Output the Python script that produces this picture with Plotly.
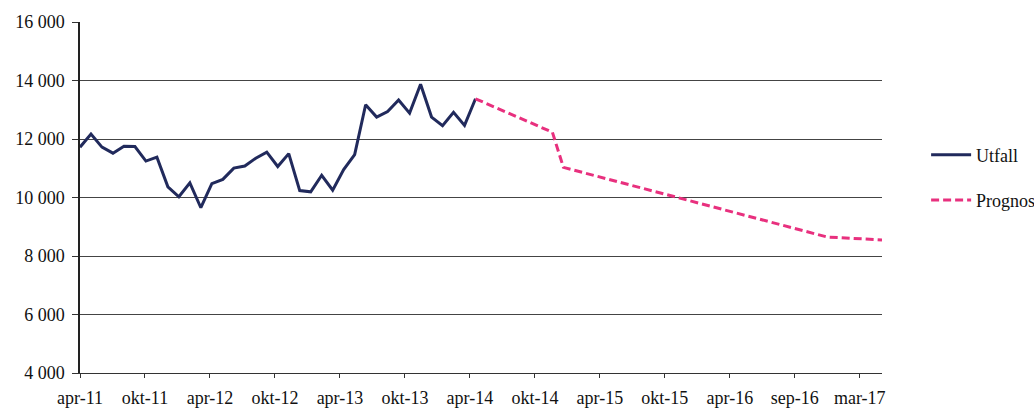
import plotly.graph_objects as go

# Month index 0 = apr-11
tick_labels = ["apr-11", "okt-11", "apr-12", "okt-12", "apr-13", "okt-13", "apr-14",
               "okt-14", "apr-15", "okt-15", "apr-16", "sep-16", "mar-17"]

utfall_x = list(range(0, 37))
utfall = [11720, 12170, 11720, 11515, 11750, 11740, 11245, 11380, 10365, 10025,
          10500, 9650, 10475, 10620, 11005, 11075, 11345, 11550, 11060, 11500,
          10237, 10193, 10760, 10250, 10955, 11465, 13170, 12750, 12940, 13335,
          12885, 13875, 12750, 12455, 12910, 12465, 13375]

prognos_x = list(range(36, 74))
prognos = [13375, 13210, 13050, 12885, 12720, 12560, 12390, 12230, 11030, 10930,
           10830, 10730, 10630, 10530, 10430, 10330, 10230, 10130, 10030, 9930,
           9830, 9730, 9630, 9530, 9430, 9330, 9230, 9130, 9030, 8930,
           8830, 8730, 8650, 8630, 8610, 8590, 8570, 8550]

y_ticks = [4000, 6000, 8000, 10000, 12000, 14000, 16000]

# label positions along the month axis (as drawn in the reference)
tick_pos = [5.915 * k for k in range(len(tick_labels))]

FONT = "Liberation Serif"

fig = go.Figure()
fig.add_trace(go.Scatter(
    x=utfall_x, y=utfall, mode="lines", name="Utfall",
    line=dict(color="#212a5c", width=3), legendgroup="a"))
fig.add_trace(go.Scatter(
    x=prognos_x, y=prognos, mode="lines", name="Prognos",
    line=dict(color="#e8307e", width=3, dash="8px,4px"), legendgroup="b"))

fig.update_layout(
    width=1034, height=408,
    margin=dict(l=80, r=152, t=22, b=35, autoexpand=False),
    paper_bgcolor="white", plot_bgcolor="white",
    separators=", ",
    font=dict(family=FONT, size=18, color="#111111"),
    showlegend=True,
    legend=dict(x=1.055, y=0.557, xanchor="left", yanchor="middle",
                font=dict(family=FONT, size=18, color="#111111"),
                tracegroupgap=19, itemwidth=40, bgcolor="rgba(0,0,0,0)"),
    xaxis=dict(range=[0, 73], tickmode="array", tickvals=tick_pos, ticktext=tick_labels,
               showgrid=False, zeroline=False, showline=True, linecolor="#333333",
               linewidth=1, ticks="outside", ticklen=4, tickcolor="#333333",
               ticklabelstandoff=4,
               automargin=False, tickfont=dict(family=FONT, size=18)),
    yaxis=dict(range=[4000, 16000], tickmode="array", tickvals=y_ticks,
               tickformat=",d", showgrid=True, gridcolor="#444444", gridwidth=1,
               zeroline=False, showline=True, linecolor="#222222", linewidth=1.5,
               ticks="outside", ticklen=6, tickcolor="#333333",
               ticklabelstandoff=4,
               automargin=False, tickfont=dict(family=FONT, size=18)),
)

fig.write_html("out.html")
